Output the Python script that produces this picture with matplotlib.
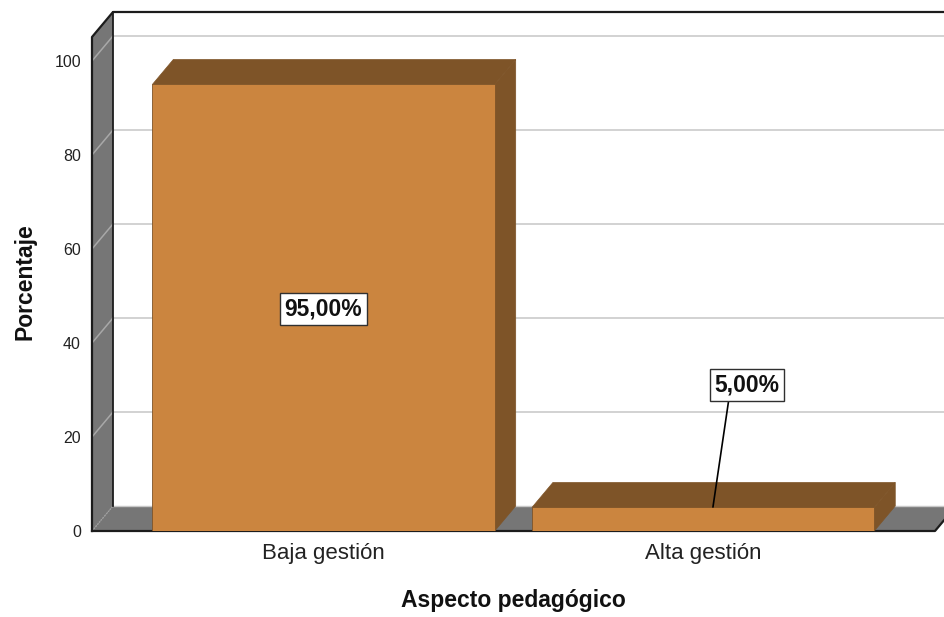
import matplotlib
matplotlib.use('Agg')
import matplotlib.pyplot as plt
from matplotlib.patches import Polygon

plt.rcParams['font.family'] = ['Liberation Sans', 'DejaVu Sans']

# Data
categories = ['Baja gestión', 'Alta gestión']
percentages = [95.0, 5.0]
value_labels = ['95,00%', '5,00%']
y_ticks = [0, 20, 40, 60, 80, 100]

FACE = '#cb853f'
DARK = '#7e5428'
WALL = '#767676'
GRID = '#d2d2d2'
LINE = '#1c1c1c'

# 3D depth of the box, in data units
dx = 0.0553
dy = 5.32
bar_width = 0.902
xmin, xmax = -0.61, 1.611
ytop = 105.1

fig = plt.figure(figsize=(9.45, 6.17), dpi=100)
ax = fig.add_axes([92 / 945, (617 - 531) / 617, (935 - 92) / 945, (531 - 37) / 617])
ax.set_xlim(xmin, xmax)
ax.set_ylim(0, ytop)
for s in ax.spines.values():
    s.set_visible(False)

# Left wall and floor
ax.add_patch(Polygon([(xmin, 0), (xmin + dx, dy), (xmin + dx, ytop + dy), (xmin, ytop)],
                     fc=WALL, ec='none', clip_on=False, zorder=1))
ax.add_patch(Polygon([(xmin, 0), (xmax, 0), (xmax + dx, dy), (xmin + dx, dy)],
                     fc=WALL, ec='none', clip_on=False, zorder=1))

# Gridlines on the wall and the back
for t in y_ticks[1:]:
    ax.plot([xmin, xmin + dx], [t, t + dy], color='#a8a8a8', lw=1.1, clip_on=False, zorder=2)
    ax.plot([xmin + dx, xmax + dx], [t + dy, t + dy], color=GRID, lw=1.4, clip_on=False, zorder=2)
ax.plot([xmin, xmin + dx], [0, dy], color='#a0a0a0', lw=1, ls=(0, (1, 1)), clip_on=False, zorder=2)
ax.plot([xmin + dx, xmax + dx], [dy, dy], color='#c8c8c8', lw=1, clip_on=False, zorder=2)

# Frame
ax.plot([xmin, xmin, xmin + dx, xmax + dx], [0, ytop, ytop + dy, ytop + dy], color=LINE, lw=1.6,
        clip_on=False, zorder=3)
ax.plot([xmin + dx, xmin + dx], [dy, ytop + dy], color=LINE, lw=1.3, clip_on=False, zorder=3)
ax.plot([xmin, xmax, xmax + dx], [0, 0, dy], color=LINE, lw=1.6, clip_on=False, zorder=3)

# Bars
xs = list(range(len(categories)))
ax.bar(xs, percentages, width=bar_width, color=FACE, edgecolor=DARK, linewidth=0.6, zorder=5)
for x, v in zip(xs, percentages):
    l, r = x - bar_width / 2, x + bar_width / 2
    ax.add_patch(Polygon([(l, v), (r, v), (r + dx, v + dy), (l + dx, v + dy)],
                         fc=DARK, ec=DARK, lw=0.5, clip_on=False, zorder=4))
    ax.add_patch(Polygon([(r, 0), (r + dx, dy), (r + dx, v + dy), (r, v)],
                         fc=DARK, ec=DARK, lw=0.5, clip_on=False, zorder=4))

# Value labels
box = dict(boxstyle='square,pad=0.2', fc='white', ec='#303030', lw=1)
ax.annotate(value_labels[0], (xs[0], percentages[0] / 2 - 0.3), ha='center', va='center', fontsize=16.5,
            fontweight='bold', color='#111111', bbox=box, zorder=7)
ax.annotate(value_labels[1], xy=(xs[1] + 0.026, percentages[1] + 0.1), xytext=(xs[1] + 0.115, 31),
            ha='center', va='center', fontsize=16.5, fontweight='bold', color='#111111', bbox=box,
            arrowprops=dict(arrowstyle='-', color='black', lw=1.2, shrinkA=0, shrinkB=0, relpos=(0.23, 0)),
            zorder=7)

# Axes text
ax.set_xticks(xs)
ax.set_xticklabels(categories, fontsize=16, color='#222222')
ax.set_yticks(y_ticks)
ax.set_yticklabels([str(t) for t in y_ticks], fontsize=11.5, color='#222222')
ax.tick_params(axis='both', length=0)
ax.tick_params(axis='x', pad=9)
ax.tick_params(axis='y', pad=8)
ax.set_xlabel('Aspecto pedagógico', fontsize=16.5, fontweight='bold', labelpad=18, color='#111111')
ax.set_ylabel('Porcentaje', fontsize=16.5, fontweight='bold', labelpad=13, color='#111111', y=0.505)

fig.savefig('out.png', dpi=100)
